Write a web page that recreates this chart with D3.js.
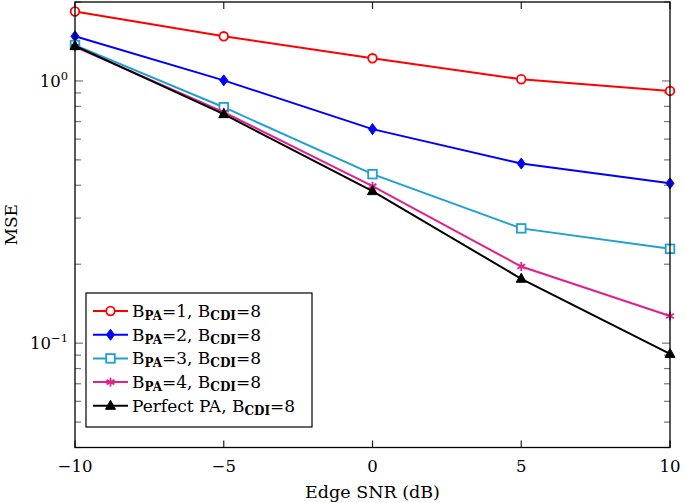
<!DOCTYPE html>
<html><head><meta charset="utf-8">
<script src="https://cdn.jsdelivr.net/npm/d3@7"></script>
<style>body{margin:0;background:#fff}svg{display:block}text{font-family:"DejaVu Serif","Liberation Serif",serif}</style>
</head><body><svg id="c" width="685" height="503"></svg>
<script>
const snr = [-10, -5, 0, 5, 10];
const mseBPA1 = [1.84, 1.48, 1.22, 1.015, 0.916];
const mseBPA2 = [1.48, 1.005, 0.655, 0.484, 0.407];
const mseBPA3 = [1.37, 0.794, 0.441, 0.274, 0.229];
const mseBPA4 = [1.35, 0.760, 0.397, 0.196, 0.127];
const msePerfect = [1.36, 0.747, 0.380, 0.176, 0.091];
const xTicks = [-10, -5, 0, 5, 10];
const yMajor = [0.1, 1];

const series = [
  {v: mseBPA1, color: "#ff0000", marker: "circle", lab: "1"},
  {v: mseBPA2, color: "#0000ff", marker: "diamond", lab: "2"},
  {v: mseBPA3, color: "#1ea0d2", marker: "square", lab: "3"},
  {v: mseBPA4, color: "#e0218c", marker: "star", lab: "4"},
  {v: msePerfect, color: "#000000", marker: "triangle", lab: null}
];

const svg = d3.select("#c");
const L = 75, R = 670, T = 2, B = 447.5;
const x = d3.scaleLinear().domain([-10, 10]).range([L, R]);
const y = d3.scaleLog().domain([0.04, 2]).range([B, T]);

const minor = [];
for (let d = 0.01; d < 10; d *= 10) for (let k = 1; k <= 9; k++) { const v = +(k*d).toPrecision(3); if (v >= 0.04 && v <= 2) minor.push(v); }
const tg = svg.append("g").attr("stroke", "#777").attr("stroke-width", 1.2);
minor.forEach(v => {
  const len = yMajor.includes(v) ? 8 : 6;
  tg.append("line").attr("x1", L).attr("x2", L+len).attr("y1", y(v)).attr("y2", y(v));
  tg.append("line").attr("x1", R).attr("x2", R-len).attr("y1", y(v)).attr("y2", y(v));
});
const tgx = svg.append("g").attr("stroke", "#222").attr("stroke-width", 1.2);
xTicks.forEach(v => {
  tgx.append("line").attr("x1", x(v)).attr("x2", x(v)).attr("y1", B).attr("y2", B-7);
  tgx.append("line").attr("x1", x(v)).attr("x2", x(v)).attr("y1", T).attr("y2", T+7);
});

xTicks.forEach(v => {
  svg.append("text").attr("x", x(v)).attr("y", 472).attr("text-anchor", "middle")
    .attr("font-size", 16.5).text(v < 0 ? "\u2212" + Math.abs(v) : String(v));
});
yMajor.forEach(v => {
  const t = svg.append("text").attr("x", 68).attr("y", y(v) + 6).attr("text-anchor", "end").attr("font-size", 16.5);
  t.append("tspan").text("10");
  t.append("tspan").attr("dy", -7).attr("font-size", 11.5).text(String(Math.round(Math.log10(v))).replace("-", "\u2212"));
});

svg.append("text").attr("x", x(0)).attr("y", 498).attr("text-anchor", "middle").attr("font-size", 17.5).text("Edge SNR (dB)");
svg.append("text").attr("transform", `translate(17,${(T+B)/2}) rotate(-90)`).attr("text-anchor", "middle").attr("font-size", 17).text("MSE");

function drawMarker(g, type, cx, cy, color) {
  if (type === "circle") g.append("circle").attr("cx", cx).attr("cy", cy).attr("r", 4.3).attr("fill", "#fff").attr("stroke", color).attr("stroke-width", 1.8);
  else if (type === "diamond") g.append("path").attr("d", `M${cx},${cy-5.5}L${cx+4},${cy}L${cx},${cy+5.5}L${cx-4},${cy}Z`).attr("fill", color).attr("stroke", color).attr("stroke-width", 1);
  else if (type === "square") g.append("rect").attr("x", cx-4.3).attr("y", cy-4.3).attr("width", 8.6).attr("height", 8.6).attr("fill", "#fff").attr("stroke", color).attr("stroke-width", 1.8);
  else if (type === "star") {
    for (let a = 0; a < 3; a++) { const ang = a*Math.PI/3 + Math.PI/2; g.append("line").attr("x1", cx+4.5*Math.cos(ang)).attr("y1", cy+4.5*Math.sin(ang)).attr("x2", cx-4.5*Math.cos(ang)).attr("y2", cy-4.5*Math.sin(ang)).attr("stroke", color).attr("stroke-width", 1.8); }
  }
  else if (type === "triangle") g.append("path").attr("d", `M${cx},${cy-5.5}L${cx+5},${cy+3.5}L${cx-5},${cy+3.5}Z`).attr("fill", color).attr("stroke", color).attr("stroke-width", 1);
}

const line = d3.line().x((d, i) => x(snr[i])).y(d => y(d));
series.forEach(s => {
  const g = svg.append("g");
  g.append("path").datum(s.v).attr("d", line).attr("fill", "none").attr("stroke", s.color).attr("stroke-width", 2);
  s.v.forEach((v, i) => drawMarker(g, s.marker, x(snr[i]), y(v), s.color));
});

svg.append("rect").attr("x", L).attr("y", T).attr("width", R-L).attr("height", B-T).attr("fill", "none").attr("stroke", "#000").attr("stroke-width", 1.3);

const lg = svg.append("g");
lg.append("rect").attr("x", 86).attr("y", 293).attr("width", 226).attr("height", 134).attr("fill", "#fff").attr("stroke", "#000").attr("stroke-width", 1.2);
series.forEach((s, i) => {
  const yy = 311 + i*23.7;
  lg.append("line").attr("x1", 93).attr("x2", 128).attr("y1", yy).attr("y2", yy).attr("stroke", s.color).attr("stroke-width", 2);
  drawMarker(lg, s.marker, 110.5, yy, s.color);
  const t = lg.append("text").attr("x", 132).attr("y", yy + 6).attr("font-size", 17);
  if (s.lab) {
    t.append("tspan").text("B");
    t.append("tspan").attr("font-size", 12).attr("dy", 3).attr("font-weight", "bold").text("PA");
    t.append("tspan").attr("dy", -3).text("=" + s.lab + ", B");
  } else {
    t.append("tspan").text("Perfect PA, B");
  }
  t.append("tspan").attr("font-size", 12).attr("dy", 3).attr("font-weight", "bold").text("CDI");
  t.append("tspan").attr("dy", -3).text("=8");
});
</script></body></html>
